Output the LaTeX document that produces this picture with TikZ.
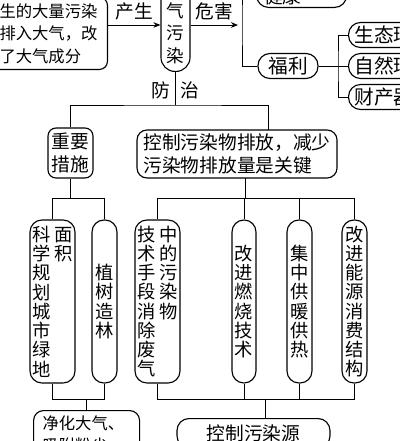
\documentclass[tikz,border=0pt]{standalone}
\usepackage{fontspec}
\setmainfont{Noto Sans CJK SC}
\usetikzlibrary{arrows.meta,positioning}

\newcommand\fsmall{\fontsize{11.6pt}{16pt}\selectfont}
\newcommand\fmid{\fontsize{13.3pt}{16.4pt}\selectfont}
\newcommand\fpol{\fontsize{12.5pt}{16pt}\selectfont}
\newcommand\fvert{\fontsize{13pt}{13.7pt}\selectfont}
\newcommand\fbig{\fontsize{14pt}{16.4pt}\selectfont}
\newcommand\vcol[1]{\parbox[t]{1em}{\centering #1}}

\begin{document}
\begin{tikzpicture}[x=0.025cm, y=-0.025cm, line width=0.7pt, >={Stealth[length=5pt,width=4pt]},
  box/.style={draw, line width=0.8pt, rounded corners=0.2cm, inner sep=0pt, align=left, font=\fmid},
  vbox/.style={draw, line width=0.8pt, rounded corners=0.3cm, inner sep=0pt, minimum height=4.075cm, font=\fvert},
  pill/.style={draw, line width=0.8pt, rounded corners=0.3cm, inner sep=0pt, minimum height=0.625cm, font=\fbig},
  lbl/.style={inner sep=0pt, font=\fmid}]
\useasboundingbox (0,0) rectangle (400,441);

% Top row
\node[box, anchor=south east, font=\fsmall, inner xsep=0.25cm, inner ysep=0.15cm] (src) at (108,70) {产生的大量污染\\物排入大气，改\\变了大气成分};
\node[box, anchor=south, rounded corners=0.35cm, font=\fpol, minimum width=0.725cm, inner ysep=0.2cm, align=center] (pol) at (175.5,72) {大\\气\\污\\染};
\node[box, anchor=south west, rounded corners=0.3cm, inner xsep=0.175cm, inner ysep=0.06cm, minimum width=2.25cm] (health) at (256,8) {人类身体\\健康};
\node[pill, minimum width=1.5cm] (fuli) at (288,66) {福利};
\node[pill, anchor=west, inner xsep=0.15cm] (eco) at (348,35) {生态环境};
\node[pill, anchor=west, inner xsep=0.15cm] (nat) at (348,66) {自然环境};
\node[pill, anchor=west, inner xsep=0.15cm] (prop) at (348,97) {财产器物};

\coordinate (lvl) at (0,25);
\coordinate (tip) at (238,25);
\coordinate (hub) at (242,25);
\coordinate (br) at (338,66);

\draw[->] (src.east |- lvl) -- (pol.west |- lvl) node[lbl, midway, above=0.1cm] {产生};
\draw[->] (pol.east |- lvl) -- (tip) node[lbl, midway, above=0.1cm] {危害};
\draw (health.west) -| (hub) |- (fuli.west);
\draw (fuli.east) -- (br);
\draw (eco.west) -| (br) |- (prop.west);
\draw (br) -- (nat.west);

% Middle row
\node[box, minimum width=1.125cm, minimum height=1.25cm, align=center] (meas) at (70.5,153) {重要\\措施};
\node[box, rounded corners=0.25cm, minimum width=5cm, minimum height=1.2cm] (key) at (237,154) {控制污染物排放，减少\\污染物排放量是关键};

\coordinate (fz) at (175.5,105);
\coordinate (keyin) at (268,130);
\draw (pol.south) -- (fz) node[lbl, pos=0.55, left=0.12cm] {防} node[lbl, pos=0.55, right=0.12cm] {治};
\draw (meas.north) |- (fz) -| (keyin);

% Vertical boxes
\node[vbox, minimum width=1.125cm] (plan) at (52.5,301.5) {\vcol{科\\学\\规\\划\\城\\市\\绿\\地}\hspace{0.09cm}\vcol{面\\积}};
\node[vbox, minimum width=0.625cm] (tree) at (104.5,301.5) {\vcol{植\\树\\造\\林}};
\node[vbox, minimum width=1.125cm] (tech) at (157.5,301.5) {\vcol{技\\术\\手\\段\\消\\除\\废\\气}\hspace{0.09cm}\vcol{中\\的\\污\\染\\物}};
\node[vbox, minimum width=0.6cm] (burn) at (244,301.5) {\vcol{改\\进\\燃\\烧\\技\\术}};
\node[vbox, minimum width=0.625cm] (heat) at (299.5,301.5) {\vcol{集\\中\\供\\暖\\供\\热}};
\node[vbox, minimum width=0.625cm] (mix) at (354.5,301.5) {\vcol{改\\进\\能\\源\\消\\费\\结\\构}};

\coordinate (upl) at (0,198);
\coordinate (ka) at (245,178);
\draw (meas.south) -- (meas.south |- upl);
\draw (plan.north) |- (tree.north |- upl) -- (tree.north);
\draw (ka) -- (ka |- upl);
\draw (tech.north) |- (mix.north |- upl) -- (mix.north);
\draw (burn.north) -- (burn.north |- upl);
\draw (heat.north) -- (heat.north |- upl);

% Bottom row
\node[box, anchor=north west, font=\fsmall, rounded corners=0.25cm, text width=2.2cm, inner xsep=0.225cm, inner ysep=0.12cm] (pure) at (33,410) {净化大气、\\吸附粉尘};
\node[box, anchor=north, rounded corners=0.3cm, minimum width=3.825cm, inner ysep=0.15cm] (ctrl) at (253.5,418) {控制污染源};

\coordinate (lowl) at (0,399);
\coordinate (cin) at (265,418);
\draw (plan.south) |- (tree.south |- lowl) -- (tree.south);
\draw (pure.north) -- (pure.north |- lowl);
\draw (tech.south) |- (mix.south |- lowl) -- (mix.south);
\draw (burn.south) -- (burn.south |- lowl);
\draw (heat.south) -- (heat.south |- lowl);
\draw (cin) -- (cin |- lowl);
\end{tikzpicture}
\end{document}
